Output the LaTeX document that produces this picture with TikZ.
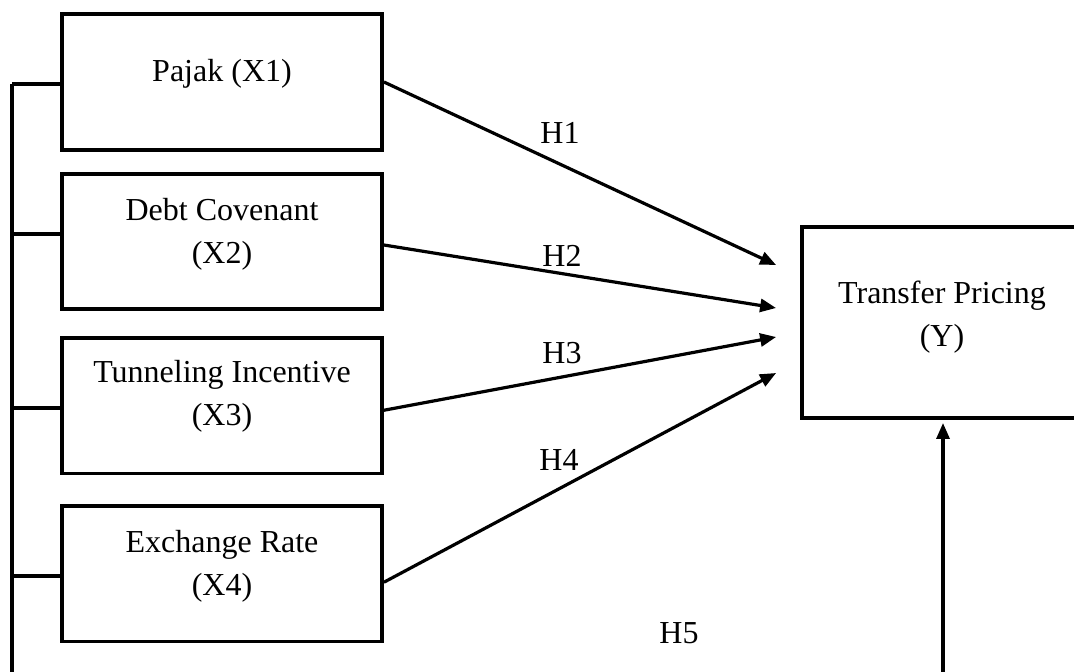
\documentclass[tikz,border=0pt]{standalone}
\usepackage{fontspec}
\setmainfont{Liberation Serif}
\usetikzlibrary{arrows.meta}
\begin{document}
\begin{tikzpicture}[x=0.5pt,y=-0.5pt,
  varbox/.style={draw, line width=1.9pt, rectangle, minimum width=160pt, minimum height=67.75pt, inner sep=0pt},
  ybox/.style={draw, line width=1.9pt, rectangle, minimum width=140pt, minimum height=95.5pt, inner sep=0pt},
  lbl/.style={font=\fontsize{16pt}{21.5pt}\selectfont, align=center, inner sep=0pt},
  conn/.style={line width=1.6pt},
  arr/.style={line width=1.6pt, -{Triangle[length=8pt,width=6.5pt]}}]
\useasboundingbox (0,0) rectangle (1074,672);
\begin{scope}
\clip (0,0) rectangle (1074,672);
% boxes
\node[varbox] (x1) at (222,82) {};
\node[varbox] (x2) at (222,241.5) {};
\node[varbox] (x3) at (222,405.75) {};
\node[varbox] (x4) at (222,573.75) {};
\node[ybox] (y) at (942,322.5) {};
% texts
\node[lbl, anchor=base] (t1) at (x1.center) {Pajak (X1)};
\node[lbl, yshift=3.75pt] (t2) at (x2.center) {Debt Covenant\\(X2)};
\node[lbl, yshift=4.5pt] (t3) at (x3.center) {Tunneling Incentive\\(X3)};
\node[lbl, yshift=3.75pt] (t4) at (x4.center) {Exchange Rate\\(X4)};
\node[lbl, yshift=2.5pt] (ty) at (y.center) {Transfer Pricing\\(Y)};
% arrow end points
\coordinate (e1) at ([xshift=-12pt, yshift=28.75pt]y.west);
\coordinate (e2) at ([xshift=-12pt, yshift=7.25pt]y.west);
\coordinate (e3) at ([xshift=-12pt, yshift=-7.25pt]y.west);
\coordinate (e4) at ([xshift=-12pt, yshift=-25.25pt]y.west);
\coordinate (s1) at (x1.east);
\coordinate (s2) at ([yshift=-1.75pt]x2.east);
\coordinate (s3) at ([yshift=-2.25pt]x3.east);
\coordinate (s4) at ([yshift=-4.25pt]x4.east);
\draw[arr] (s1) -- (e1);
\draw[arr] (s2) -- (e2);
\draw[arr] (s3) -- (e3);
\draw[arr] (s4) -- (e4);
% hypothesis labels
\node[lbl] (h1) at (560,133) {H1};
\node[lbl] (h2) at (562,256) {H2};
\node[lbl] (h3) at (562,353) {H3};
\node[lbl] (h4) at (559,460) {H4};
\node[lbl] (h5) at (679,633) {H5};
% left bus
\coordinate (bt) at (12,84);
\coordinate (bb) at (12,675);
\draw[conn] (bt) -- (bb);
\draw[conn] (bt) -- (x1.west |- bt);
\draw[conn] (bt |- 0,234) -- (x2.west |- 0,234);
\draw[conn] (bt |- 0,408) -- (x3.west |- 0,408);
\draw[conn] (bt |- 0,576) -- (x4.west |- 0,576);
% H5 arrow
\coordinate (v5) at (943,675);
\draw[arr] (v5) -- (v5 |- 0,423);
\end{scope}
\end{tikzpicture}
\end{document}
